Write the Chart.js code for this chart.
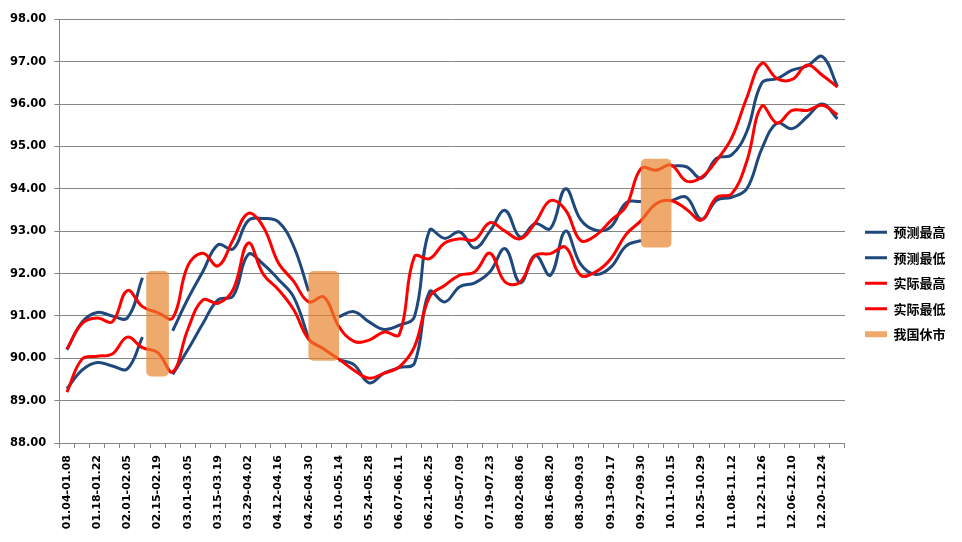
<!DOCTYPE html>
<html lang="zh">
<head>
<meta charset="UTF-8">
<title>预测与实际</title>
<style>
  body { margin: 0; background: #fff; }
</style>
</head>
<body>
<canvas id="chart" width="962" height="542"></canvas>

<script src="https://cdn.jsdelivr.net/npm/chart.js"></script>
<script>
    // weekly categories, 2021
    const weeks = [
        '01.04-01.08', '01.11-01.15', '01.18-01.22', '01.25-01.29', '02.01-02.05', '02.08-02.12',
        '02.15-02.19', '02.22-02.26', '03.01-03.05', '03.08-03.12', '03.15-03.19', '03.22-03.26',
        '03.29-04.02', '04.05-04.09', '04.12-04.16', '04.19-04.23', '04.26-04.30', '05.03-05.07',
        '05.10-05.14', '05.17-05.21', '05.24-05.28', '05.31-06.04', '06.07-06.11', '06.14-06.18',
        '06.21-06.25', '06.28-07.02', '07.05-07.09', '07.12-07.16', '07.19-07.23', '07.26-07.30',
        '08.02-08.06', '08.09-08.13', '08.16-08.20', '08.23-08.27', '08.30-09.03', '09.06-09.10',
        '09.13-09.17', '09.20-09.24', '09.27-09.30', '10.04-10.08', '10.11-10.15', '10.18-10.22',
        '10.25-10.29', '11.01-11.05', '11.08-11.12', '11.15-11.19', '11.22-11.26', '11.29-12.03',
        '12.06-12.10', '12.13-12.17', '12.20-12.24', '12.27-12.31'
    ];

    const predHigh = [
        90.20, 90.85, 91.08, 91.00, 90.95, 91.90, null, 90.65, 91.40, 92.05, 92.68, 92.58,
        93.25, 93.30, 93.22, 92.65, 91.58, null, 90.98, 91.10, 90.86, 90.68, 90.78, 90.98,
        93.02, 92.83, 92.98, 92.60, 93.00, 93.49, 92.86, 93.18, 93.06, 94.00, 93.27, 93.02,
        93.10, 93.67, 93.70, null, 94.54, 94.52, 94.25, 94.72, 94.80, 95.35, 96.50, 96.60,
        96.80, 96.90, 97.12, 96.42
    ];
    const predLow = [
        89.28, 89.72, 89.90, 89.82, 89.75, 90.50, null, 89.62, 90.20, 90.82, 91.38, 91.47,
        92.45, 92.22, 91.86, 91.45, 90.47, null, 89.96, 89.85, 89.42, 89.65, 89.78, 89.88,
        91.57, 91.33, 91.69, 91.78, 92.04, 92.59, 91.78, 92.43, 91.96, 93.00, 92.22, 91.98,
        92.15, 92.65, 92.78, null, 93.72, 93.80, 93.28, 93.73, 93.80, 94.00, 94.95, 95.55,
        95.42, 95.70, 96.00, 95.65
    ];
    const realHigh = [
        90.22, 90.82, 90.95, 90.86, 91.60, 91.22, 91.08, 90.95, 92.18, 92.48, 92.18, 92.80,
        93.42, 93.10, 92.25, 91.82, 91.33, 91.45, 90.75, 90.40, 90.43, 90.62, 90.56, 92.40,
        92.35, 92.72, 92.82, 92.80, 93.20, 93.00, 92.82, 93.20, 93.72, 93.50, 92.78, 92.90,
        93.25, 93.58, 94.48, 94.44, 94.56, 94.18, 94.27, 94.67, 95.20, 96.15, 96.96, 96.60,
        96.58, 96.92, 96.68, 96.40
    ];
    const realLow = [
        89.20, 89.98, 90.05, 90.10, 90.50, 90.25, 90.14, 89.68, 90.68, 91.38, 91.30, 91.62,
        92.72, 91.98, 91.62, 91.15, 90.45, 90.22, 89.98, 89.72, 89.53, 89.65, 89.80, 90.27,
        91.45, 91.72, 91.96, 92.04, 92.48, 91.80, 91.80, 92.43, 92.47, 92.62, 91.96, 92.04,
        92.35, 92.92, 93.25, 93.65, 93.72, 93.52, 93.26, 93.80, 93.88, 94.65, 95.95, 95.55,
        95.85, 95.85, 95.97, 95.75
    ];

    // market closed weeks: [low, high] of the shaded block
    const closedWeeks = [17, 39];
    const closedRanges = [[89.95, 92.05], [92.62, 94.70]];
    const springWeek = 6;
    const springRange = [89.58, 92.05];

    const blue = '#1F497D';
    const red = '#FF0000';
    const shade = 'rgba(232, 130, 43, 0.69)';
    const gridGray = '#868686';

    const closedData = weeks.map(() => null);
    closedWeeks.forEach((w, i) => { closedData[w] = closedRanges[i]; });
    const springData = weeks.map(() => null);
    springData[springWeek] = springRange;

    function lineSet(label, data, color, order) {
        return {
            type: 'line',
            label: label,
            data: data,
            borderColor: color,
            backgroundColor: color,
            borderWidth: 3,
            pointRadius: 0,
            pointHoverRadius: 0,
            pointStyle: 'line',
            tension: 0.4,
            spanGaps: false,
            fill: false,
            order: order
        };
    }

    const ctx = document.getElementById('chart').getContext('2d');
    const chart = new Chart(ctx, {
        type: 'line',
        data: {
            labels: weeks,
            datasets: [
                lineSet('预测最高', predHigh, blue, 2),
                lineSet('预测最低', predLow, blue, 2),
                lineSet('实际最高', realHigh, red, 1),
                lineSet('实际最低', realLow, red, 1),
                {
                    type: 'bar',
                    label: '我国休市',
                    data: closedData,
                    backgroundColor: shade,
                    borderWidth: 0,
                    borderRadius: 5,
                    borderSkipped: false,
                    barThickness: 30,
                    grouped: false,
                    pointStyle: 'rect',
                    order: 0
                },
                {
                    // spring festival block is a little narrower
                    type: 'bar',
                    label: '春节',
                    data: springData,
                    backgroundColor: shade,
                    borderWidth: 0,
                    borderRadius: 5,
                    borderSkipped: false,
                    barThickness: 22,
                    grouped: false,
                    order: 0
                }
            ]
        },
        options: {
            responsive: false,
            animation: false,
            layout: {
                padding: { left: 2, right: 6.5, top: 19.3, bottom: 5.8 }
            },
            plugins: {
                tooltip: { enabled: false },
                legend: {
                    position: 'right',
                    align: 'start',
                    // empty title only pushes the items down
                    title: {
                        display: true,
                        text: ' ',
                        padding: { top: 179.5, bottom: 0 }
                    },
                    labels: {
                        usePointStyle: true,
                        pointStyleWidth: 22,
                        boxHeight: 6,
                        padding: 12.5,
                        color: '#000',
                        font: { family: '"Noto Sans CJK SC", sans-serif', size: 13, weight: 'bold' },
                        sort: (a, b) => a.datasetIndex - b.datasetIndex,
                        filter: item => item.datasetIndex !== 5
                    }
                }
            },
            scales: {
                x: {
                    type: 'category',
                    offset: true,
                    grid: {
                        offset: true,
                        drawOnChartArea: false,
                        drawTicks: true,
                        tickLength: 5,
                        color: gridGray
                    },
                    border: { color: gridGray },
                    ticks: {
                        autoSkip: false,
                        minRotation: 90,
                        maxRotation: 90,
                        padding: 7,
                        color: '#000',
                        font: { family: '"DejaVu Sans", sans-serif', size: 11, weight: 'bold' },
                        callback: function (value, index) {
                            return index % 2 === 0 ? this.getLabelForValue(value) : '';
                        }
                    }
                },
                y: {
                    min: 88,
                    max: 98,
                    grid: {
                        color: gridGray,
                        tickLength: 5
                    },
                    border: { color: gridGray },
                    ticks: {
                        stepSize: 1,
                        padding: 8,
                        color: '#000',
                        font: { family: '"DejaVu Sans", sans-serif', size: 11.5, weight: 'bold' },
                        callback: v => v.toFixed(2)
                    }
                },
                // blank axis: keeps a gap between plot and legend
                gap: {
                    position: 'right',
                    display: true,
                    grid: { display: false, drawTicks: false },
                    border: { display: false },
                    ticks: { display: false },
                    afterFit: scale => { scale.width = 7.5; }
                }
            }
        }
    });
</script>
</body>
</html>
